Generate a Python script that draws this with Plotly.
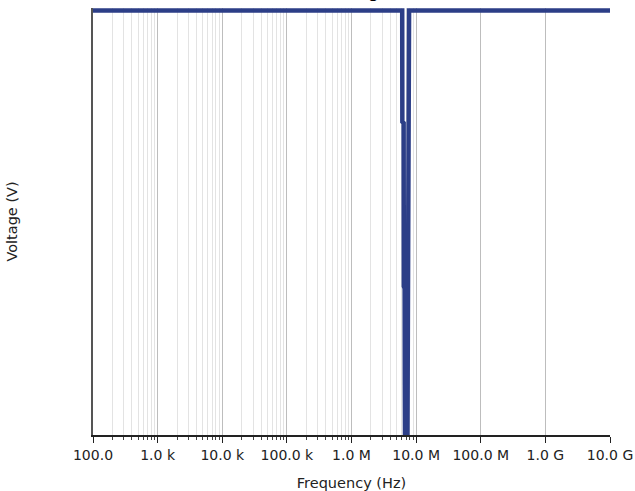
import plotly.graph_objects as go

# Frequency sweep (Hz) and measured voltage (V)
freq_hz = [1e2, 6.09e6, 6.12e6, 6.41e6, 6.45e6, 6.64e6, 6.68e6, 6.72e6,
           7.34e6, 7.38e6, 7.42e6, 7.46e6, 7.74e6, 7.78e6, 1e10]
voltage_v = [1.0, 1.0, 0.738, 0.735, 0.35, 0.345, 0.117, 0.0,
             0.0, 0.117, 0.35, 0.78, 0.785, 1.0, 1.0]

tick_vals = [1e2, 1e3, 1e4, 1e5, 1e6, 1e7, 1e8, 1e9, 1e10]
tick_text = ["100.0", "1.0 k", "10.0 k", "100.0 k", "1.0 M", "10.0 M",
             "100.0 M", "1.0 G", "10.0 G"]
minor_vals = [m * 10 ** e for e in range(2, 7) for m in range(2, 10)]

title_text = "Voltage"

fig = go.Figure()
fig.add_trace(go.Scatter(
    x=freq_hz, y=voltage_v, mode="lines",
    line=dict(color="#2c3e87", width=4.5),
    cliponaxis=False, showlegend=False,
))

fig.add_annotation(
    text=title_text, xref="paper", yref="paper", x=0.51, y=1.0,
    yanchor="bottom", xanchor="center", showarrow=False, yshift=5,
    font=dict(size=18, color="#000000", family="DejaVu Sans"),
)

fig.update_layout(
    width=635, height=491,
    margin=dict(l=93, r=25, t=8, b=56),
    paper_bgcolor="white", plot_bgcolor="white",
    font=dict(family="DejaVu Sans", size=14, color="#222222"),
    xaxis=dict(
        type="log", range=[2, 10], automargin=False,
        tickmode="array", tickvals=tick_vals, ticktext=tick_text,
        ticks="outside", ticklen=6, tickcolor="#222222",
        tickfont=dict(size=14),
        showgrid=True, gridcolor="#bdbdbd", gridwidth=1,
        showline=True, linecolor="#222222", linewidth=1.5,
        zeroline=False,
        title=dict(text="Frequency (Hz)", font=dict(size=14.5), standoff=20),
        minor=dict(tickmode="array", tickvals=minor_vals, ticks="outside",
                   ticklen=3, tickcolor="#444444", showgrid=True,
                   gridcolor="#e3e3e3", gridwidth=1),
    ),
    yaxis=dict(
        range=[0, 1.006], showticklabels=False, ticks="", automargin=False,
        showgrid=False, zeroline=False,
        showline=True, linecolor="#555555", linewidth=1.5,
        title=dict(text="Voltage (V)", font=dict(size=14.5), standoff=70),
    ),
)

fig.write_html("out.html", config={"displayModeBar": False},
               post_script="document.body.style.margin='0';")
